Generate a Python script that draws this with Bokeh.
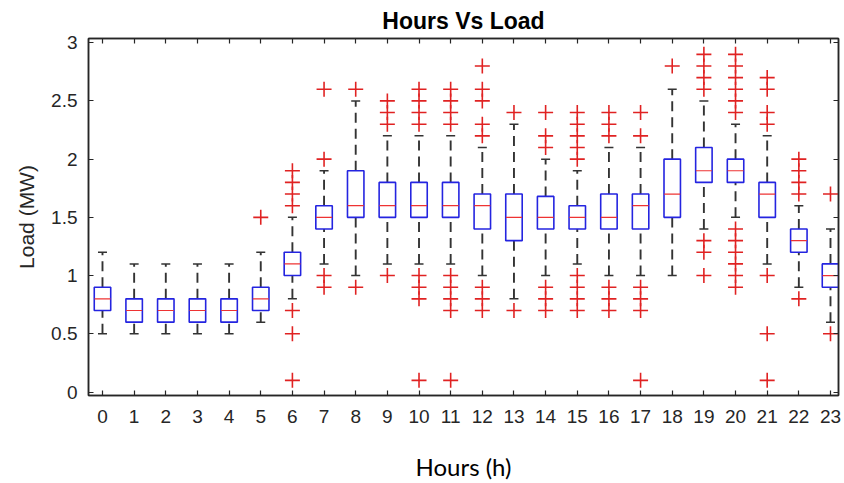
import numpy as np
from bokeh.plotting import figure
from bokeh.models import ColumnDataSource, Range1d, FixedTicker, LinearAxis
from bokeh.embed import file_html
from bokeh.resources import INLINE

# ---- data ----
hours = list(range(24))
q1 = [0.7, 0.6, 0.6, 0.6, 0.6, 0.7, 1.0, 1.4, 1.5, 1.5, 1.5, 1.5,
      1.4, 1.3, 1.4, 1.4, 1.4, 1.4, 1.5, 1.8, 1.8, 1.5, 1.2, 0.9]
median = [0.8, 0.7, 0.7, 0.7, 0.7, 0.8, 1.1, 1.5, 1.6, 1.6, 1.6, 1.6,
          1.6, 1.5, 1.5, 1.5, 1.5, 1.6, 1.7, 1.9, 1.9, 1.7, 1.3, 1.0]
q3 = [0.9, 0.8, 0.8, 0.8, 0.8, 0.9, 1.2, 1.6, 1.9, 1.8, 1.8, 1.8,
      1.7, 1.7, 1.68, 1.6, 1.7, 1.7, 2.0, 2.1, 2.0, 1.8, 1.4, 1.1]
whisker_low = [0.5, 0.5, 0.5, 0.5, 0.5, 0.6, 0.8, 1.1, 1.0, 1.1, 1.1, 1.1,
               1.0, 0.8, 1.0, 1.1, 1.0, 1.0, 1.0, 1.4, 1.5, 1.1, 0.9, 0.6]
whisker_high = [1.2, 1.1, 1.1, 1.1, 1.1, 1.2, 1.5, 1.9, 2.5, 2.2, 2.2, 2.2,
                2.1, 2.3, 2.0, 1.9, 2.1, 2.1, 2.6, 2.5, 2.3, 2.2, 1.6, 1.4]

outliers = {
    5: [1.5],
    6: [1.6, 1.7, 1.8, 1.9, 0.7, 0.5, 0.1],
    7: [2.6, 2.0, 1.0, 0.9],
    8: [2.6, 0.9],
    9: [2.3, 2.4, 2.5, 1.0],
    10: [2.3, 2.4, 2.5, 2.6, 1.0, 0.9, 0.8, 0.1],
    11: [2.3, 2.4, 2.5, 2.6, 1.0, 0.9, 0.8, 0.7, 0.1],
    12: [2.2, 2.3, 2.5, 2.6, 2.8, 0.9, 0.8, 0.7],
    13: [2.4, 0.7],
    14: [2.1, 2.2, 2.4, 0.9, 0.8, 0.7],
    15: [2.0, 2.1, 2.2, 2.3, 2.4, 1.0, 0.9, 0.8, 0.7],
    16: [2.2, 2.3, 2.4, 0.9, 0.8, 0.7],
    17: [2.2, 2.4, 0.9, 0.8, 0.7, 0.1],
    18: [2.8],
    19: [2.6, 2.7, 2.8, 2.9, 1.3, 1.2, 1.0],
    20: [2.4, 2.5, 2.6, 2.7, 2.8, 2.9, 1.4, 1.3, 1.2, 1.1, 1.0, 0.9],
    21: [2.3, 2.4, 2.6, 2.7, 1.0, 0.5, 0.1],
    22: [1.7, 1.8, 1.9, 2.0, 0.8],
    23: [1.7, 0.5],
}
y_ticks = [0, 0.5, 1, 1.5, 2, 2.5, 3]
y_tick_labels = ["0", "0.5", "1", "1.5", "2", "2.5", "3"]

out_x = [h for h, vals in outliers.items() for _ in vals]
out_y = [v for vals in outliers.values() for v in vals]

src = ColumnDataSource(dict(hour=hours, q1=q1, med=median, q3=q3,
                            lo=whisker_low, hi=whisker_high))
osrc = ColumnDataSource(dict(hour=out_x, val=out_y))

AX = "#262626"
FONT = "Liberation Sans"

p = figure(width=844, height=483, output_backend="svg", toolbar_location=None,
           x_range=Range1d(-0.442, 23.253), y_range=Range1d(-0.030, 3.036),
           min_border_left=88, min_border_right=6, min_border_top=38,
           min_border_bottom=85)

p.title.text = "Hours Vs Load"
p.title.align = "center"
p.title.text_font = FONT
p.title.text_font_size = "23px"
p.title.text_font_style = "bold"
p.title.text_color = "#000000"
p.title.offset = 0
p.title.standoff = 10

p.grid.visible = False
p.outline_line_color = AX
p.outline_line_width = 1.5

# whiskers
p.segment(x0="hour", x1="hour", y0="q3", y1="hi", source=src,
          line_color="#333333", line_width=1.9, line_dash="10 6")
p.segment(x0="hour", x1="hour", y0="lo", y1="q1", source=src,
          line_color="#333333", line_width=1.9, line_dash="10 6")
# caps
p.scatter(x="hour", y="hi", source=src, marker="dash", size=9,
          line_color="#333333", line_width=1.5)
p.scatter(x="hour", y="lo", source=src, marker="dash", size=9,
          line_color="#333333", line_width=1.5)
# boxes
p.vbar(x="hour", width=0.52, top="q3", bottom="q1", source=src,
       fill_color="white", line_color="#2424e0", line_width=1.6)
# medians
p.scatter(x="hour", y="med", source=src, marker="dash", size=16,
          line_color="#ee3333", line_width=1.2)
# outliers
p.scatter(x="hour", y="val", source=osrc, marker="cross", size=15,
          line_color="#e02222", line_width=1.6)

xt = FixedTicker(ticks=hours, minor_ticks=[])
yt = FixedTicker(ticks=y_ticks, minor_ticks=[])

def style_axis(ax, show_labels=True):
    ax.axis_line_color = AX
    ax.axis_line_width = 1.5
    ax.major_tick_line_color = AX
    ax.major_tick_line_width = 1.2
    ax.major_tick_in = 5
    ax.major_tick_out = 0
    ax.minor_tick_line_color = None
    ax.major_label_text_font = FONT
    ax.major_label_text_color = AX
    ax.major_label_text_font_size = "19px"
    if not show_labels:
        ax.major_label_text_color = None
        ax.major_label_text_font_size = "1px"
        ax.major_label_standoff = 0

xa = p.xaxis[0]
xa.ticker = xt
style_axis(xa)
xa.major_label_standoff = 14
xa.axis_label = "Hours (h)"
xa.axis_label_text_font = "Lato"
xa.axis_label_text_font_size = "24px"
xa.axis_label_text_font_style = "normal"
xa.axis_label_text_color = "#000000"
xa.axis_label_standoff = 26

ya = p.yaxis[0]
ya.ticker = yt
style_axis(ya)
ya.major_label_overrides = dict(zip(y_ticks, y_tick_labels))
ya.major_label_standoff = 11
ya.axis_label = "Load (MW)"
ya.axis_label_text_font = FONT
ya.axis_label_text_font_size = "21px"
ya.axis_label_text_font_style = "normal"
ya.axis_label_text_color = AX
ya.axis_label_standoff = 10

top = LinearAxis(ticker=xt)
style_axis(top, show_labels=False)
p.add_layout(top, "above")
right = LinearAxis(ticker=yt)
style_axis(right, show_labels=False)
p.add_layout(right, "right")

open("out.html", "w").write(file_html(p, INLINE))
